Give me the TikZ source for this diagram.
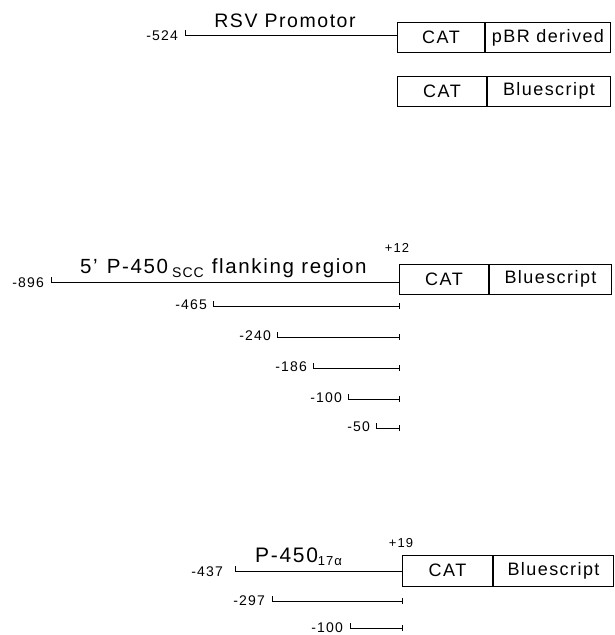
\documentclass[tikz,border=0pt]{standalone}
\usepackage{fontspec}
\setmainfont{Liberation Sans}[LetterSpace=8]
\begin{document}
\begin{tikzpicture}[x=1pt,y=-1pt,
  box/.style={draw, line width=1pt, minimum height=30pt, inner sep=0pt, anchor=west, font=\fontsize{18}{18}\selectfont},
  lbl/.style={anchor=east, inner sep=0pt, font=\fontsize{14}{14}\selectfont},
  big/.style={inner sep=0pt, font=\fontsize{19.5}{19.5}\selectfont},
  small/.style={inner sep=0pt, font=\fontsize{13}{13}\selectfont},
  dna/.style={line width=1pt}]
\useasboundingbox (0,0) rectangle (615,635);

% ---------- section 1 ----------
\node[box, minimum width=87pt] (cat1) at (397,37.5) {CAT};
\node[box, minimum width=125pt] (vec1) at (cat1.east) {pBR derived};
\coordinate (a1) at (185,35);
\draw[dna] (a1) ++(0,-5) -- (a1) -- (a1 -| cat1.west);
\node[lbl] (l524) at (178,36) {-524};
\node[big, anchor=base] (rsv) at (285,27) {RSV Promotor};

\node[box, minimum width=89pt, minimum height=30pt] (cat2) at (397,91) {CAT};
\node[box, minimum width=123pt, minimum height=30pt] (vec2) at (cat2.east) {Bluescript};

% ---------- section 2 ----------
\node[box, minimum width=89pt] (cat3) at (399,279) {CAT};
\node[box, minimum width=122pt] (vec3) at (cat3.east) {Bluescript};
\coordinate (a3) at (51,282);
\draw[dna] (a3) ++(0,-5) -- (a3) -- (a3 -| cat3.west);
\node[lbl] (l896) at (44,283) {-896};
\node[big, anchor=base west, font=\fontsize{20.5}{20.5}\selectfont] (scc) at (80,273)
  {5'\hspace{9pt}P-450\hspace{4pt}\raisebox{-4pt}{\fontsize{14}{14}\selectfont SCC}\hspace{8pt}flanking region};
\node[small] (p12) at (397,248) {+12};

\foreach \n/\x/\y in {465/213/306, 240/277/337, 186/313/368, 100/348/399, 50/376/428}{
  \coordinate (s\n) at (\x,\y);
  \draw[dna] (s\n) ++(0,-5) -- (s\n) -- (s\n -| cat3.west);
  \draw[line width=0.8pt] (s\n -| cat3.west) +(0,-3) -- +(0,3);
  \node[lbl] (ls\n) at ([xshift=-6pt,yshift=1pt]s\n) {-\n};
}

% ---------- section 3 ----------
\node[box, minimum width=90pt, minimum height=31pt] (cat4) at (402,570.5) {CAT};
\node[box, minimum width=120pt, minimum height=31pt] (vec4) at (cat4.east) {Bluescript};
\coordinate (a4) at (235,571);
\draw[dna] (a4) ++(0,-5) -- (a4) -- (a4 -| cat4.west);
\node[lbl] (l437) at (223,572) {-437};
\node[big, anchor=base west, font=\fontsize{21}{21}\selectfont] (p17) at (255,562)
  {P-450\raisebox{-3pt}{\fontsize{13}{13}\selectfont 17α}};
\node[small] (p19) at (401,543) {+19};

\foreach \n/\x/\y in {297/272/601, 100/350/628}{
  \coordinate (t\n) at (\x,\y);
  \draw[dna] (t\n) ++(0,-5) -- (t\n) -- (t\n -| cat4.west);
  \draw[line width=0.8pt] (t\n -| cat4.west) +(0,-3) -- +(0,3);
  \node[lbl] (lt\n) at ([xshift=-7pt,yshift=0pt]t\n) {-\n};
}
\end{tikzpicture}
\end{document}
